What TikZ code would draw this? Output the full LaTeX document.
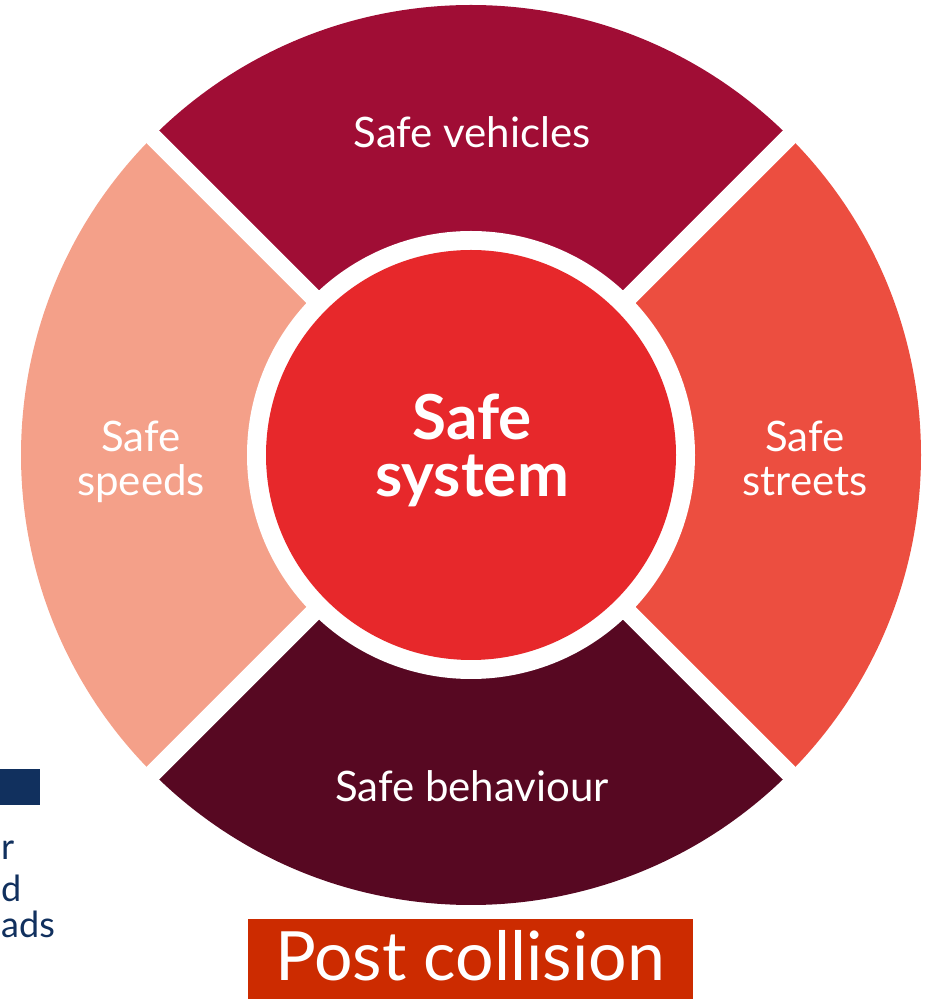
\documentclass[tikz,border=0pt]{standalone}
\usepackage{fontspec}
\setmainfont{Lato}
\definecolor{vehc}{HTML}{A00D35}
\definecolor{strc}{HTML}{EC4E40}
\definecolor{behc}{HTML}{570822}
\definecolor{spdc}{HTML}{F4A089}
\definecolor{sysc}{HTML}{E7282B}
\definecolor{postc}{HTML}{CC2B00}
\definecolor{navyc}{HTML}{11305E}
\begin{document}
\begin{tikzpicture}[x=1pt,y=1pt,
  seglabel/.style={text=white,font=\fontsize{42}{45}\selectfont,anchor=base,inner sep=0},
  syslabel/.style={text=white,font=\bfseries\fontsize{62}{62}\selectfont,anchor=base,inner sep=0},
  sidelabel/.style={text=navyc,font=\fontsize{36}{36}\selectfont,anchor=base west,inner sep=0},
  gap/.style={white,line width=18}]
\useasboundingbox (0,0) rectangle (933,999);
\clip (0,0) rectangle (933,999);
\coordinate (c) at (471,544);
% four segments
\fill[vehc] (c) -- ++(45:450) arc[start angle=45,end angle=135,radius=450] -- cycle;
\fill[spdc] (c) -- ++(135:450) arc[start angle=135,end angle=225,radius=450] -- cycle;
\fill[behc] (c) -- ++(225:450) arc[start angle=225,end angle=315,radius=450] -- cycle;
\fill[strc] (c) -- ++(315:450) arc[start angle=315,end angle=405,radius=450] -- cycle;
% white gaps
\coordinate (g1) at ([shift={(45:470)}]c);
\coordinate (g2) at ([shift={(225:470)}]c);
\coordinate (g3) at ([shift={(135:470)}]c);
\coordinate (g4) at ([shift={(315:470)}]c);
\draw[gap] (g1) -- (g2);
\draw[gap] (g3) -- (g4);
\fill[white] (c) circle[radius=224];
\node[circle,fill=sysc,minimum size=410,inner sep=0] (sys) at (c) {};
% labels
\node[seglabel] (veh) at (472,851) {Safe vehicles};
\node[seglabel] (spd1) at (141,547) {Safe};
\node[seglabel] (spd2) at (141,503) {speeds};
\node[seglabel] (str1) at (805,547) {Safe};
\node[seglabel] (str2) at (805,503) {streets};
\node[seglabel] (beh) at (472,197) {Safe behaviour};
\node[syslabel] (sys1) at (472,559) {Safe};
\node[syslabel] (sys2) at (472,502) {system};
% post collision box
\fill[postc] (248,0) rectangle (693,80);
\node[text=white,font=\fontsize{68}{68}\selectfont,anchor=base,inner sep=0] (post) at (470,19) {Post collision};
% partial panel on the left
\fill[navyc] (-5,194) rectangle (40,230);
\node[sidelabel] (l1) at (1,139) {r};
\node[sidelabel] (l2) at (1,97) {d};
\node[sidelabel] (l3) at (1,61) {ads};
\end{tikzpicture}
\end{document}
